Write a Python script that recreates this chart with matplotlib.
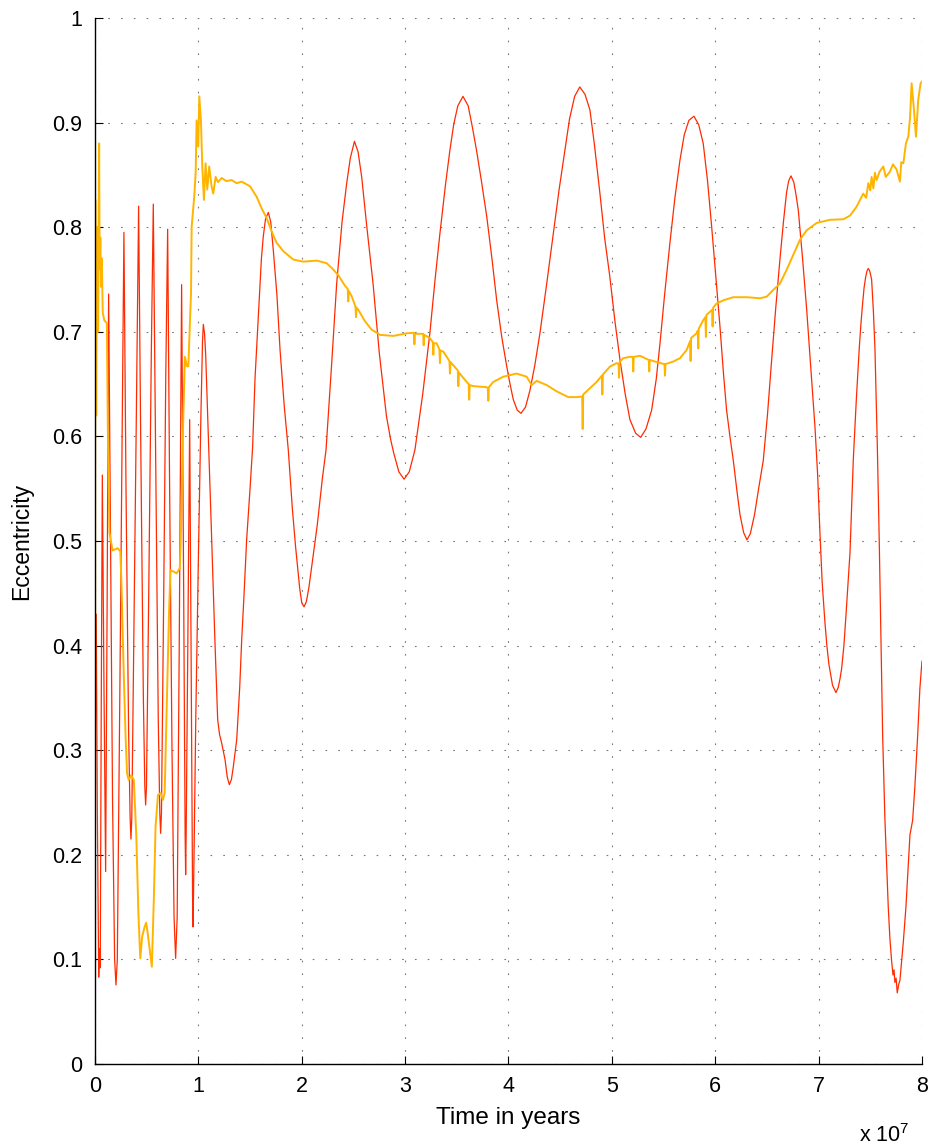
import numpy as np
import matplotlib
matplotlib.use('Agg')
import matplotlib.pyplot as plt

plt.rcParams['font.family'] = ['Liberation Sans', 'DejaVu Sans']
plt.rcParams['mathtext.default'] = 'regular'

# time in units of 1e7 years, eccentricity of the inner orbit (red)
t_red = [0.000, 0.012, 0.022, 0.036, 0.044, 0.051, 0.060, 0.071, 0.087, 0.103,
         0.118, 0.132, 0.150, 0.170, 0.190, 0.203, 0.216, 0.240, 0.262, 0.280,
         0.300, 0.325, 0.340, 0.348, 0.356, 0.375, 0.400, 0.422, 0.442, 0.468,
         0.482, 0.490, 0.498, 0.520, 0.545, 0.564, 0.585, 0.612, 0.627, 0.635,
         0.643, 0.665, 0.685, 0.703, 0.722, 0.745, 0.765, 0.780, 0.795, 0.815,
         0.838, 0.858, 0.872, 0.877, 0.882, 0.898, 0.916, 0.932, 0.944, 0.948,
         0.953, 0.975, 1.000, 1.025, 1.040, 1.048, 1.060, 1.071, 1.100, 1.129,
         1.145, 1.160, 1.187, 1.205, 1.225, 1.258, 1.280, 1.300, 1.320, 1.338,
         1.371, 1.400, 1.419, 1.440, 1.467, 1.500, 1.525, 1.548, 1.580, 1.610,
         1.628, 1.650, 1.677, 1.700, 1.725, 1.760, 1.790, 1.830, 1.870, 1.910,
         1.940, 1.980, 2.000, 2.022, 2.045, 2.070, 2.100, 2.150, 2.200, 2.235,
         2.290, 2.338, 2.390, 2.435, 2.470, 2.510, 2.545, 2.580, 2.630, 2.690,
         2.750, 2.820, 2.860, 2.890, 2.940, 2.990, 3.040, 3.095, 3.170, 3.240,
         3.290, 3.337, 3.390, 3.434, 3.470, 3.510, 3.560, 3.610, 3.650, 3.690,
         3.740, 3.790, 3.840, 3.886, 3.935, 3.983, 4.015, 4.047, 4.085, 4.121,
         4.165, 4.208, 4.255, 4.305, 4.370, 4.434, 4.490, 4.547, 4.590, 4.640,
         4.690, 4.740, 4.788, 4.830, 4.885, 4.930, 4.980, 5.030, 5.079, 5.130,
         5.175, 5.230, 5.279, 5.330, 5.385, 5.430, 5.466, 5.510, 5.562, 5.610,
         5.659, 5.700, 5.745, 5.794, 5.840, 5.884, 5.925, 5.966, 6.006, 6.046,
         6.080, 6.110, 6.145, 6.175, 6.210, 6.240, 6.275, 6.307, 6.340, 6.380,
         6.420, 6.465, 6.505, 6.546, 6.585, 6.626, 6.660, 6.690, 6.710, 6.733,
         6.760, 6.780, 6.804, 6.845, 6.885, 6.925, 6.965, 6.990, 7.013, 7.035,
         7.060, 7.080, 7.100, 7.135, 7.168, 7.190, 7.207, 7.223, 7.245, 7.265,
         7.285, 7.304, 7.320, 7.336, 7.365, 7.394, 7.410, 7.426, 7.440, 7.455,
         7.468, 7.481, 7.495, 7.513, 7.530, 7.545, 7.568, 7.587, 7.603, 7.620,
         7.642, 7.660, 7.674, 7.690, 7.706, 7.720, 7.730, 7.738, 7.750, 7.761,
         7.775, 7.787, 7.800, 7.820, 7.845, 7.865, 7.884, 7.910, 7.932, 7.958,
         7.980, 8.000]
e_red = [0.270, 0.430, 0.250, 0.083, 0.110, 0.092, 0.330, 0.563, 0.360, 0.184,
         0.450, 0.736, 0.500, 0.250, 0.100, 0.0755, 0.100, 0.350, 0.600, 0.795,
         0.550, 0.320, 0.235, 0.215, 0.235, 0.400, 0.620, 0.820, 0.600, 0.350,
         0.265, 0.2476, 0.265, 0.450, 0.680, 0.822, 0.600, 0.330, 0.240, 0.2205,
         0.240, 0.450, 0.660, 0.798, 0.550, 0.300, 0.140, 0.101, 0.140, 0.400,
         0.745, 0.450, 0.220, 0.181, 0.220, 0.400, 0.616, 0.350, 0.160, 0.131,
         0.160, 0.330, 0.482, 0.622, 0.690, 0.707, 0.698, 0.678, 0.590, 0.501,
         0.450, 0.405, 0.329, 0.315, 0.307, 0.291, 0.274, 0.267, 0.272, 0.284,
         0.310, 0.360, 0.405, 0.445, 0.501, 0.550, 0.590, 0.655, 0.714, 0.770,
         0.791, 0.808, 0.814, 0.805, 0.778, 0.735, 0.683, 0.630, 0.587, 0.530,
         0.495, 0.455, 0.441, 0.437, 0.442, 0.456, 0.478, 0.515, 0.560, 0.587,
         0.670, 0.746, 0.805, 0.842, 0.866, 0.882, 0.872, 0.848, 0.800, 0.746,
         0.680, 0.619, 0.597, 0.584, 0.566, 0.559, 0.566, 0.587, 0.640, 0.699,
         0.750, 0.794, 0.840, 0.874, 0.898, 0.916, 0.925, 0.916, 0.896, 0.874,
         0.843, 0.810, 0.770, 0.730, 0.695, 0.667, 0.650, 0.635, 0.625, 0.622,
         0.628, 0.644, 0.668, 0.699, 0.746, 0.794, 0.836, 0.874, 0.903, 0.925,
         0.934, 0.927, 0.912, 0.880, 0.832, 0.790, 0.753, 0.710, 0.673, 0.640,
         0.616, 0.603, 0.599, 0.607, 0.625, 0.655, 0.689, 0.735, 0.785, 0.828,
         0.864, 0.888, 0.902, 0.906, 0.898, 0.880, 0.845, 0.800, 0.752, 0.705,
         0.660, 0.625, 0.598, 0.577, 0.548, 0.525, 0.508, 0.501, 0.507, 0.525,
         0.550, 0.577, 0.620, 0.673, 0.722, 0.769, 0.805, 0.833, 0.844, 0.849,
         0.843, 0.832, 0.816, 0.770, 0.721, 0.665, 0.609, 0.565, 0.508, 0.460,
         0.424, 0.400, 0.382, 0.362, 0.355, 0.360, 0.368, 0.378, 0.400, 0.429,
         0.460, 0.489, 0.535, 0.578, 0.635, 0.685, 0.708, 0.727, 0.742, 0.752,
         0.758, 0.7605, 0.758, 0.750, 0.720, 0.685, 0.592, 0.499, 0.406, 0.313,
         0.233, 0.185, 0.150, 0.120, 0.099, 0.085, 0.090, 0.078, 0.082, 0.068,
         0.076, 0.080, 0.095, 0.117, 0.150, 0.185, 0.219, 0.233, 0.266, 0.313,
         0.359, 0.385]

# outer orbit (yellow)
t_yel = [0.000, 0.003, 0.012, 0.020, 0.030, 0.040, 0.045, 0.052, 0.058, 0.066,
         0.075, 0.090, 0.115, 0.125, 0.140, 0.170, 0.220, 0.245, 0.255, 0.280,
         0.297, 0.310, 0.326, 0.350, 0.376, 0.400, 0.420, 0.438, 0.457, 0.480,
         0.495, 0.510, 0.530, 0.550, 0.570, 0.586, 0.609, 0.635, 0.657, 0.674,
         0.693, 0.716, 0.730, 0.760, 0.790, 0.820, 0.830, 0.855, 0.870, 0.890,
         0.903, 0.929, 0.935, 0.960, 0.974, 0.983, 0.999, 1.009, 1.025, 1.038,
         1.054, 1.070, 1.086, 1.105, 1.128, 1.144, 1.167, 1.190, 1.225, 1.270,
         1.322, 1.370, 1.419, 1.500, 1.564, 1.612, 1.661, 1.709, 1.757, 1.822,
         1.918, 2.015, 2.145, 2.241, 2.290, 2.354, 2.418, 2.445, 2.450, 2.455,
         2.483, 2.520, 2.525, 2.530, 2.547, 2.612, 2.676, 2.757, 2.886, 3.015,
         3.085, 3.090, 3.095, 3.144, 3.175, 3.180, 3.185, 3.240, 3.268, 3.273,
         3.278, 3.305, 3.332, 3.337, 3.342, 3.370, 3.429, 3.434, 3.439, 3.510,
         3.515, 3.520, 3.596, 3.615, 3.620, 3.625, 3.660, 3.789, 3.800, 3.805,
         3.810, 3.853, 3.950, 4.079, 4.176, 4.224, 4.273, 4.370, 4.466, 4.579,
         4.660, 4.713, 4.718, 4.723, 4.788, 4.853, 4.903, 4.908, 4.913, 4.982,
         5.047, 5.065, 5.070, 5.075, 5.110, 5.175, 5.202, 5.207, 5.212, 5.272,
         5.357, 5.362, 5.367, 5.434, 5.509, 5.514, 5.519, 5.594, 5.659, 5.724,
         5.757, 5.762, 5.767, 5.820, 5.831, 5.836, 5.841, 5.884, 5.905, 5.910,
         5.915, 5.949, 5.970, 5.975, 5.980, 6.014, 6.078, 6.175, 6.304, 6.433,
         6.498, 6.562, 6.626, 6.690, 6.755, 6.820, 6.885, 6.982, 7.110, 7.239,
         7.304, 7.368, 7.432, 7.460, 7.481, 7.500, 7.513, 7.530, 7.545, 7.561,
         7.590, 7.626, 7.650, 7.690, 7.720, 7.755, 7.787, 7.800, 7.820, 7.845,
         7.868, 7.885, 7.900, 7.923, 7.942, 7.964, 7.987, 8.000]
e_yel = [0.028, 0.826, 0.620, 0.800, 0.700, 0.880, 0.760, 0.790, 0.743, 0.770,
         0.718, 0.711, 0.708, 0.600, 0.508, 0.491, 0.493, 0.490, 0.463, 0.367,
         0.310, 0.278, 0.2715, 0.276, 0.2715, 0.217, 0.144, 0.101, 0.122, 0.131,
         0.135, 0.125, 0.109, 0.093, 0.160, 0.227, 0.257, 0.259, 0.2524, 0.259,
         0.3356, 0.431, 0.472, 0.4707, 0.469, 0.474, 0.501, 0.622, 0.676, 0.667,
         0.667, 0.737, 0.800, 0.829, 0.852, 0.902, 0.877, 0.925, 0.902, 0.858,
         0.826, 0.861, 0.836, 0.858, 0.839, 0.832, 0.848, 0.843, 0.847, 0.844,
         0.845, 0.842, 0.8435, 0.839, 0.829, 0.818, 0.8085, 0.796, 0.785, 0.777,
         0.769, 0.767, 0.768, 0.7655, 0.761, 0.754, 0.744, 0.741, 0.729, 0.739,
         0.734, 0.724, 0.714, 0.723, 0.721, 0.710, 0.702, 0.697, 0.696, 0.6985,
         0.699, 0.688, 0.698, 0.698, 0.698, 0.687, 0.697, 0.694, 0.690, 0.678,
         0.689, 0.689, 0.683, 0.670, 0.682, 0.681, 0.672, 0.660, 0.671, 0.663,
         0.648, 0.661, 0.652, 0.650, 0.635, 0.649, 0.648, 0.647, 0.646, 0.634,
         0.647, 0.652, 0.657, 0.660, 0.657, 0.649, 0.653, 0.649, 0.643, 0.6375,
         0.6375, 0.638, 0.607, 0.640, 0.646, 0.652, 0.658, 0.640, 0.659, 0.6667,
         0.670, 0.669, 0.656, 0.671, 0.6747, 0.676, 0.676, 0.662, 0.676, 0.677,
         0.673, 0.662, 0.673, 0.671, 0.669, 0.658, 0.669, 0.6715, 0.6747, 0.6826,
         0.691, 0.672, 0.694, 0.6985, 0.701, 0.684, 0.703, 0.711, 0.714, 0.695,
         0.716, 0.719, 0.721, 0.705, 0.723, 0.727, 0.730, 0.733, 0.733, 0.732,
         0.7335, 0.740, 0.746, 0.759, 0.7735, 0.788, 0.797, 0.804, 0.807, 0.8075,
         0.811, 0.8196, 0.832, 0.828, 0.842, 0.835, 0.848, 0.837, 0.852, 0.845,
         0.853, 0.858, 0.848, 0.853, 0.860, 0.855, 0.8435, 0.862, 0.861, 0.880,
         0.8865, 0.905, 0.9375, 0.912, 0.8865, 0.9216, 0.9375, 0.939]

fig = plt.figure(figsize=(9.34, 11.48), dpi=100)
ax = fig.add_axes([0.1017, 0.0732, 0.8854, 0.9112])

ax.plot(t_red, e_red, color='#ff2a00', lw=0.9)
ax.plot(t_yel, e_yel, color='#ffb400', lw=1.4)

ax.set_xlim(0, 8)
ax.set_ylim(0, 1)
ax.set_xticks(range(9))
ax.set_yticks(np.arange(0, 1.01, 0.1))
ax.set_yticklabels(['0'] + ['0.%d' % i for i in range(1, 10)] + ['1'])
ax.tick_params(direction='in', length=6, width=0.8, labelsize=15.5)
ax.tick_params(axis='y', pad=9)
ax.tick_params(axis='x', pad=9)

for side in ['top', 'right']:
    ax.spines[side].set_visible(False)
for side in ['left', 'bottom']:
    ax.spines[side].set_linewidth(1.0)

ax.grid(True, color='#777777', lw=0.8, linestyle=(0, (1.5, 10)))
ax.set_axisbelow(True)

ax.set_xlabel('Time in years', fontsize=17.5, labelpad=7)
ax.set_ylabel('Eccentricity', fontsize=16.5, labelpad=14)
fig.text(0.947, 0.005, r'x 10$^7$', fontsize=15.5, ha='center', va='baseline')

plt.savefig('out.png', dpi=100)
